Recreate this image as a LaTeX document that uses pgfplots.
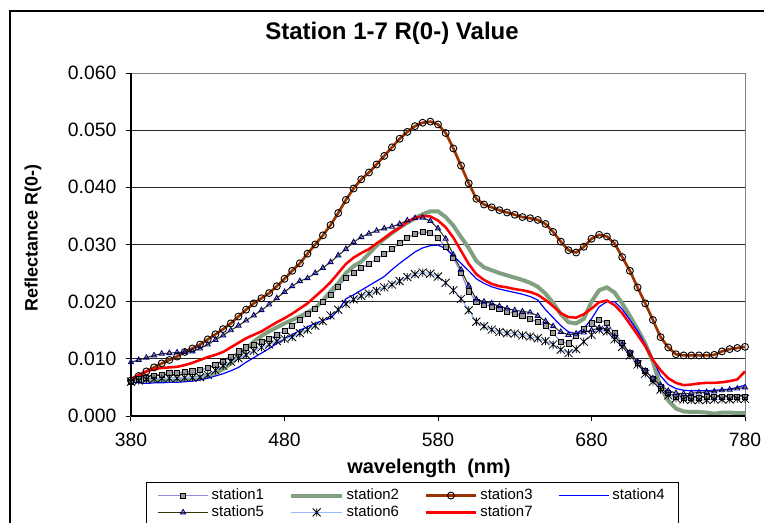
\documentclass[border=0pt]{standalone}
\usepackage{fontspec}
\setmainfont{Liberation Sans}
\usepackage{pgfplots}
\usepackage{pgfplotstable}
\pgfplotsset{compat=1.18}
\definecolor{sonel}{RGB}{140,140,215}
\definecolor{stwo}{RGB}{128,160,128}
\definecolor{sthree}{RGB}{153,51,0}
\definecolor{sfour}{RGB}{0,0,255}
\definecolor{sfivel}{RGB}{51,51,0}
\definecolor{sfivem}{RGB}{0,0,128}
\definecolor{ssixl}{RGB}{150,185,255}
\pgfdeclareplotmark{xstar}{%
  \pgfpathmoveto{\pgfqpoint{-\pgfplotmarksize}{-\pgfplotmarksize}}%
  \pgfpathlineto{\pgfqpoint{\pgfplotmarksize}{\pgfplotmarksize}}%
  \pgfpathmoveto{\pgfqpoint{-\pgfplotmarksize}{\pgfplotmarksize}}%
  \pgfpathlineto{\pgfqpoint{\pgfplotmarksize}{-\pgfplotmarksize}}%
  \pgfpathmoveto{\pgfqpoint{0pt}{-\pgfplotmarksize}}%
  \pgfpathlineto{\pgfqpoint{0pt}{\pgfplotmarksize}}%
  \pgfusepathqstroke}
\pgfplotstableread{
wl  s1     s2     s3     s4     s5     s6     s7
380 0.0060 0.0060 0.0062 0.0060 0.0094 0.0060 0.0065
385 0.0064 0.0062 0.0070 0.0058 0.0098 0.0062 0.0072
390 0.0067 0.0063 0.0078 0.0057 0.0102 0.0064 0.0078
395 0.0070 0.0063 0.0085 0.0058 0.0106 0.0065 0.0082
400 0.0072 0.0063 0.0092 0.0058 0.0109 0.0066 0.0084
405 0.0075 0.0064 0.0098 0.0059 0.0110 0.0066 0.0085
410 0.0076 0.0064 0.0104 0.0059 0.0111 0.0066 0.0086
415 0.0077 0.0065 0.0112 0.0060 0.0112 0.0067 0.0089
420 0.0078 0.0066 0.0118 0.0061 0.0113 0.0067 0.0093
425 0.0080 0.0068 0.0125 0.0063 0.0118 0.0068 0.0098
430 0.0084 0.0071 0.0134 0.0066 0.0125 0.0072 0.0103
435 0.0089 0.0075 0.0143 0.0070 0.0133 0.0080 0.0107
440 0.0095 0.0082 0.0152 0.0074 0.0141 0.0088 0.0112
445 0.0103 0.0092 0.0162 0.0079 0.0150 0.0095 0.0120
450 0.0113 0.0105 0.0174 0.0085 0.0158 0.0101 0.0128
455 0.0120 0.0117 0.0186 0.0094 0.0167 0.0107 0.0136
460 0.0125 0.0130 0.0197 0.0102 0.0176 0.0114 0.0142
465 0.0129 0.0140 0.0206 0.0110 0.0185 0.0120 0.0148
470 0.0135 0.0148 0.0215 0.0118 0.0195 0.0125 0.0156
475 0.0142 0.0155 0.0227 0.0127 0.0206 0.0131 0.0164
480 0.0149 0.0162 0.0240 0.0135 0.0217 0.0135 0.0171
485 0.0158 0.0168 0.0254 0.0142 0.0227 0.0138 0.0179
490 0.0168 0.0174 0.0267 0.0150 0.0236 0.0145 0.0188
495 0.0178 0.0181 0.0284 0.0156 0.0241 0.0151 0.0197
500 0.0188 0.0189 0.0300 0.0162 0.0250 0.0158 0.0209
505 0.0200 0.0202 0.0316 0.0167 0.0259 0.0166 0.0221
510 0.0212 0.0218 0.0334 0.0171 0.0269 0.0176 0.0234
515 0.0226 0.0232 0.0355 0.0185 0.0281 0.0186 0.0250
520 0.0241 0.0250 0.0378 0.0205 0.0292 0.0196 0.0266
525 0.0251 0.0262 0.0398 0.0212 0.0304 0.0204 0.0277
530 0.0259 0.0270 0.0414 0.0220 0.0313 0.0210 0.0285
535 0.0266 0.0284 0.0426 0.0228 0.0319 0.0214 0.0292
540 0.0275 0.0298 0.0440 0.0236 0.0324 0.0219 0.0302
545 0.0283 0.0310 0.0455 0.0244 0.0328 0.0225 0.0311
550 0.0292 0.0320 0.0470 0.0256 0.0331 0.0230 0.0321
555 0.0302 0.0330 0.0485 0.0267 0.0336 0.0236 0.0329
560 0.0312 0.0338 0.0497 0.0277 0.0342 0.0243 0.0340
565 0.0318 0.0346 0.0507 0.0287 0.0346 0.0248 0.0346
570 0.0322 0.0353 0.0513 0.0294 0.0347 0.0251 0.0350
575 0.0321 0.0358 0.0515 0.0298 0.0341 0.0249 0.0349
580 0.0311 0.0358 0.0510 0.0299 0.0328 0.0244 0.0342
585 0.0296 0.0348 0.0495 0.0293 0.0310 0.0233 0.0330
590 0.0277 0.0333 0.0468 0.0281 0.0282 0.0220 0.0312
595 0.0250 0.0313 0.0438 0.0267 0.0256 0.0205 0.0289
600 0.0218 0.0294 0.0407 0.0254 0.0228 0.0185 0.0266
605 0.0200 0.0271 0.0380 0.0240 0.0204 0.0165 0.0248
610 0.0195 0.0260 0.0370 0.0232 0.0200 0.0157 0.0238
615 0.0191 0.0255 0.0365 0.0226 0.0197 0.0151 0.0231
620 0.0188 0.0250 0.0360 0.0222 0.0192 0.0147 0.0227
625 0.0183 0.0246 0.0356 0.0219 0.0188 0.0145 0.0225
630 0.0179 0.0242 0.0352 0.0216 0.0185 0.0144 0.0222
635 0.0175 0.0238 0.0348 0.0213 0.0183 0.0141 0.0220
640 0.0170 0.0233 0.0346 0.0209 0.0181 0.0139 0.0217
645 0.0164 0.0226 0.0343 0.0203 0.0175 0.0136 0.0212
650 0.0157 0.0214 0.0336 0.0186 0.0166 0.0131 0.0203
655 0.0145 0.0198 0.0322 0.0172 0.0157 0.0125 0.0192
660 0.0130 0.0178 0.0305 0.0158 0.0147 0.0116 0.0180
665 0.0127 0.0164 0.0290 0.0147 0.0142 0.0110 0.0173
670 0.0140 0.0162 0.0286 0.0144 0.0144 0.0117 0.0172
675 0.0152 0.0170 0.0296 0.0153 0.0146 0.0130 0.0178
680 0.0162 0.0200 0.0310 0.0170 0.0150 0.0142 0.0188
685 0.0168 0.0220 0.0317 0.0191 0.0154 0.0151 0.0199
690 0.0163 0.0225 0.0314 0.0200 0.0152 0.0148 0.0202
695 0.0145 0.0216 0.0302 0.0200 0.0139 0.0134 0.0194
700 0.0128 0.0197 0.0278 0.0187 0.0125 0.0121 0.0180
705 0.0110 0.0175 0.0254 0.0168 0.0111 0.0106 0.0161
710 0.0093 0.0152 0.0225 0.0149 0.0095 0.0090 0.0142
715 0.0079 0.0127 0.0197 0.0125 0.0079 0.0074 0.0122
720 0.0065 0.0095 0.0168 0.0100 0.0066 0.0060 0.0098
725 0.0050 0.0050 0.0138 0.0070 0.0054 0.0046 0.0080
730 0.0040 0.0027 0.0120 0.0055 0.0044 0.0036 0.0066
735 0.0034 0.0013 0.0108 0.0048 0.0040 0.0031 0.0058
740 0.0032 0.0008 0.0106 0.0045 0.0039 0.0029 0.0054
745 0.0032 0.0007 0.0106 0.0044 0.0040 0.0028 0.0055
750 0.0032 0.0007 0.0106 0.0044 0.0041 0.0028 0.0057
755 0.0033 0.0006 0.0106 0.0044 0.0042 0.0028 0.0058
760 0.0033 0.0004 0.0107 0.0045 0.0043 0.0029 0.0058
765 0.0033 0.0006 0.0113 0.0046 0.0045 0.0029 0.0059
770 0.0033 0.0006 0.0117 0.0047 0.0046 0.0029 0.0061
775 0.0034 0.0005 0.0119 0.0050 0.0048 0.0030 0.0064
780 0.0034 0.0005 0.0121 0.0054 0.0050 0.0030 0.0078
}\data
\begin{document}
\begin{tikzpicture}[x=0.75pt,y=-0.75pt]
\path[use as bounding box] (0,0) rectangle (764,523);
\draw[black, line width=0.9pt] (10,11) rectangle (780,560);
\node[font=\bfseries\fontsize{18}{20}\selectfont] at (392,33) {Station 1-7 R(0-) Value};
\begin{axis}[
  at={(98.25pt,-312pt)}, anchor=south west,
  scale only axis, width=460.5pt, height=257.25pt,
  xmin=380, xmax=780, ymin=0, ymax=0.06,
  clip=false,
  axis line style={draw=gray, line width=0.75pt},
  xtick={380,480,580,680,780},
  ytick={0,0.01,0.02,0.03,0.04,0.05,0.06},
  yticklabels={0.000,0.010,0.020,0.030,0.040,0.050,0.060},
  scaled y ticks=false,
  xtick pos=bottom, ytick pos=left,
  tick align=outside, major tick length=4pt,
  tick style={black, line width=0.75pt},
  ymajorgrids, major grid style={black!85, line width=0.7pt},
  /pgf/number format/assume math mode=true,
  tick label style={font=\fontsize{14.5}{16}\selectfont},
  xticklabel style={yshift=-5pt},
  yticklabel style={xshift=-3.5pt},
  xlabel={wavelength\ \ (nm)},
  xlabel style={font=\bfseries\fontsize{15}{17}\selectfont, at={(axis description cs:0.4853,-0.1516)}, anchor=center},
  ylabel={Reflectance R(0-)},
  ylabel style={font=\bfseries\fontsize{13.5}{15}\selectfont, at={(axis description cs:-0.1596,0.519)}, anchor=center},
  legend columns=4,
  legend cell align=left,
  legend image code/.code={\draw[mark repeat=2,mark phase=2,#1] plot coordinates {(0pt,0pt) (19pt,0pt) (38pt,0pt)};},
  legend style={at={(axis description cs:0.0244,-0.1924)}, anchor=north west, draw=black, line width=0.75pt,
    font=\fontsize{11.2}{12}\selectfont, inner xsep=8pt, inner ysep=3pt, row sep=-1pt,
    /tikz/every even column/.append style={column sep=17pt}},
]
\addplot[color=sonel, draw=sonel, line width=0.9pt, mark=square*, mark size=1.9pt, mark options={draw=black, fill=black!40, line width=0.6pt}] table[x=wl,y=s1]{\data};
\addlegendentry{station1}
\addplot[color=stwo, draw=stwo, line width=3pt] table[x=wl,y=s2]{\data};
\addlegendentry{station2}
\addplot[color=sthree, draw=sthree, line width=2pt, mark=o, mark size=2.6pt, mark options={draw=black, line width=0.7pt}] table[x=wl,y=s3]{\data};
\addlegendentry{station3}
\addplot[color=sfour, draw=sfour, line width=0.9pt] table[x=wl,y=s4]{\data};
\addlegendentry{station4}
\addplot[color=sfivel, draw=sfivel, line width=0.8pt, mark=triangle, mark size=2.2pt, mark options={draw=sfivem, line width=0.7pt}] table[x=wl,y=s5]{\data};
\addlegendentry{station5}
\addplot[color=ssixl, draw=ssixl, line width=0.9pt, mark=xstar, mark size=3pt, mark options={draw=black, line width=0.6pt}] table[x=wl,y=s6]{\data};
\addlegendentry{station6}
\addplot[color=red, draw=red, line width=1.9pt] table[x=wl,y=s7]{\data};
\addlegendentry{station7}
\draw[black, line width=0.9pt] (rel axis cs:0,0) -- (rel axis cs:0,1);
\draw[black, line width=0.9pt] (rel axis cs:0,0) -- (rel axis cs:1,0);
\end{axis}
\end{tikzpicture}
\end{document}
